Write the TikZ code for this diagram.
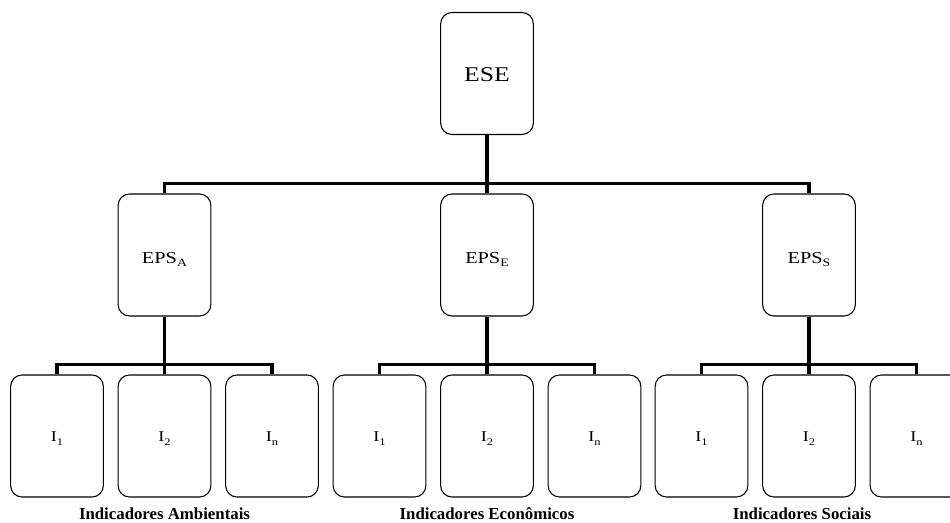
\documentclass[tikz,border=0pt]{standalone}
\usepackage{fontspec}
\setmainfont[FakeStretch=1.22]{Liberation Serif}
\newfontfamily\captionserif{Liberation Serif}
% lowered subscript, a bit deeper than \textsubscript
\newcommand{\lowsub}[1]{\raisebox{-0.45ex}{\fontsize{0.68\dimexpr\csname f@size\endcsname pt\relax}{1em}\selectfont #1}}
\begin{document}
\begin{tikzpicture}[x=0.75pt,y=-0.75pt,
  box/.style={draw=black,line width=0.8pt,rounded corners=8.5pt,fill=white,
    minimum width=69.5pt,minimum height=91.5pt,inner sep=0pt,align=center,
    text depth=0pt},
  topfont/.style={font=\fontsize{15.75}{18}\selectfont,text height=12.6pt},
  midfont/.style={font=\fontsize{12.5}{15}\selectfont,text height=12.75pt},
  leaffont/.style={font=\fontsize{11.25}{13}\selectfont,text height=8.9pt},
  groupfont/.style={font=\captionserif\fontsize{12.6}{14}\selectfont\bfseries},
  conn/.style={draw=black,line width=2.3pt}]
\useasboundingbox (0,0) rectangle (950,523);

% root
\node[box,topfont] (ese) at (487,73.5) {ESE};

% second level
\node[box,midfont] (epsA) at (164.5,255) {EPS\lowsub{A}};
\node[box,midfont] (epsE) at (487,255) {EPS\lowsub{E}};
\node[box,midfont] (epsS) at (809,255) {EPS\lowsub{S}};

% indicators
\foreach \g/\cx in {A/164.5,E/487,S/809}{
  \node[box,leaffont] (\g1) at (\cx-107.5,436) {I\lowsub{1}};
  \node[box,leaffont] (\g2) at (\cx,436) {I\lowsub{2}};
  \node[box,leaffont] (\g n) at (\cx+107.5,436) {I\lowsub{n}};
  \coordinate (bar\g) at (\cx,364.5);
}

% group captions
\node[groupfont] (capA) at (164.5,513.5) {Indicadores Ambientais};
\node[groupfont] (capE) at (487,513.5) {Indicadores Econômicos};
\node[groupfont] (capS) at (802,513.5) {Indicadores Sociais};

% connectors
\coordinate (topbar) at (487,183.5);
\draw[conn] (ese.south) -- (topbar);
\draw[conn] (epsA.north) |- (topbar) -| (epsS.north);
\draw[conn] (topbar) -- (epsE.north);
\foreach \g in {A,E,S}{
  \draw[conn] (eps\g.south) -- (bar\g);
  \draw[conn] (\g1.north) |- (bar\g) -| (\g n.north);
  \draw[conn] (bar\g) -- (\g2.north);
}
\end{tikzpicture}
\end{document}
